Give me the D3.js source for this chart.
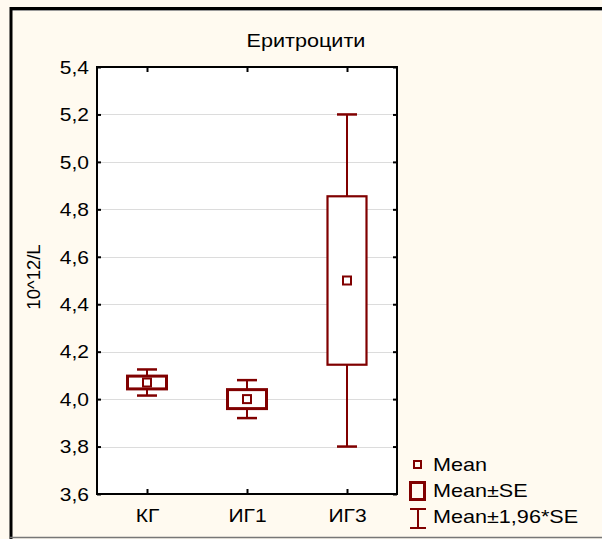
<!DOCTYPE html>
<html>
<head>
<meta charset="utf-8">
<script src="https://cdn.jsdelivr.net/npm/d3@7"></script>
<style>
  html, body { margin: 0; padding: 0; background: #fff; }
  svg { display: block; font-family: "Liberation Sans", Arial, sans-serif; }
</style>
</head>
<body>
<svg id="chart" width="602" height="539"></svg>
<script>
// groups and values
const groups = ["КГ", "ИГ1", "ИГ3"];
const means = [4.07, 4.0, 4.5];
const seLow = [4.043, 3.96, 4.145];
const seHigh = [4.097, 4.04, 4.855];
const ciLow = [4.015, 3.92, 3.8];
const ciHigh = [4.125, 4.08, 5.2];
const yTicks = [3.6, 3.8, 4.0, 4.2, 4.4, 4.6, 4.8, 5.0, 5.2, 5.4];
const legendItems = ["Mean", "Mean±SE", "Mean±1,96*SE"];

const dark = "#800000";
const sx = 1.2; // the original's text is a little stretched sideways
const svg = d3.select("#chart");

// outer frame
svg.append("rect").attr("x", 0).attr("y", 0).attr("width", 602).attr("height", 539).attr("fill", "#fffaf0");
svg.append("line").attr("x1", 10).attr("x2", 602).attr("y1", 8.5).attr("y2", 8.5)
  .attr("stroke", "#000").attr("stroke-width", 3);
svg.append("line").attr("x1", 10).attr("x2", 602).attr("y1", 10.5).attr("y2", 10.5)
  .attr("stroke", "#999").attr("stroke-width", 1);
svg.append("line").attr("x1", 11).attr("x2", 11).attr("y1", 7).attr("y2", 539)
  .attr("stroke", "#000").attr("stroke-width", 3);
svg.append("line").attr("x1", 10).attr("x2", 602).attr("y1", 537.5).attr("y2", 537.5)
  .attr("stroke", "#777").attr("stroke-width", 1.5);

const m = { left: 97, top: 67, right: 397, bottom: 494 };

const x = d3.scalePoint().domain(groups).range([m.left, m.right]).padding(0.5);
const y = d3.scaleLinear().domain([3.6, 5.4]).range([m.bottom, m.top]);

svg.append("rect")
  .attr("x", m.left).attr("y", m.top)
  .attr("width", m.right - m.left).attr("height", m.bottom - m.top)
  .attr("fill", "#fff");

// grid lines
svg.append("g").selectAll("line")
  .data(yTicks.slice(1, -1))
  .join("line")
  .attr("x1", m.left).attr("x2", m.right)
  .attr("y1", (d) => Math.round(y(d)) + 0.5).attr("y2", (d) => Math.round(y(d)) + 0.5)
  .attr("stroke", "#dcdcdc").attr("stroke-width", 1.2);

// axes: ticks pointing inward on all four sides
const fmt = (d) => d3.format(".1f")(d).replace(".", ",");
const styleAxis = (g) => {
  g.select(".domain").remove();
  g.selectAll(".tick line").attr("stroke", "#000").attr("stroke-width", 2);
  g.selectAll(".tick text").attr("fill", "#000").attr("font-size", "17.5px")
    .attr("font-family", "Liberation Sans, Arial, sans-serif")
    .attr("transform", `scale(${sx},1)`);
};
svg.append("g").attr("transform", `translate(${m.left},0)`)
  .call(d3.axisLeft(y).tickValues(yTicks).tickFormat(fmt).tickSize(-4))
  .call(styleAxis)
  .selectAll(".tick text").attr("x", -8 / sx).attr("dy", "0.36em");
svg.append("g").attr("transform", `translate(${m.right},0)`)
  .call(d3.axisRight(y).tickValues(yTicks).tickFormat("").tickSize(-4))
  .call(styleAxis);
svg.append("g").attr("transform", `translate(0,${m.bottom})`)
  .call(d3.axisBottom(x).tickSize(-5))
  .call(styleAxis)
  .selectAll(".tick text").attr("y", 28).attr("dy", 0);
svg.append("g").attr("transform", `translate(0,${m.top})`)
  .call(d3.axisTop(x).tickSize(-5).tickFormat(""))
  .call(styleAxis);

// plot frame
svg.append("rect")
  .attr("x", m.left).attr("y", m.top)
  .attr("width", m.right - m.left).attr("height", m.bottom - m.top)
  .attr("fill", "none").attr("stroke", "#000").attr("stroke-width", 2);

// boxes
const boxW = 39, capW = 20, meanS = 8;
const marks = svg.append("g");
groups.forEach((g, i) => {
  const cx = x(g);
  const thick = (seHigh[i] - seLow[i]) < 0.2;
  // whisker lines (outside the box)
  marks.append("line").attr("x1", cx).attr("x2", cx)
    .attr("y1", y(ciHigh[i])).attr("y2", y(seHigh[i]))
    .attr("stroke", dark).attr("stroke-width", 2);
  marks.append("line").attr("x1", cx).attr("x2", cx)
    .attr("y1", y(seLow[i])).attr("y2", y(ciLow[i]))
    .attr("stroke", dark).attr("stroke-width", 2);
  [ciHigh[i], ciLow[i]].forEach((v) => {
    marks.append("line").attr("x1", cx - capW / 2).attr("x2", cx + capW / 2)
      .attr("y1", y(v)).attr("y2", y(v))
      .attr("stroke", dark).attr("stroke-width", 2.5);
  });
  marks.append("rect")
    .attr("x", cx - boxW / 2).attr("y", y(seHigh[i]))
    .attr("width", boxW).attr("height", y(seLow[i]) - y(seHigh[i]))
    .attr("fill", "#fff").attr("stroke", dark).attr("stroke-width", thick ? 3 : 2.2);
  marks.append("rect")
    .attr("x", cx - meanS / 2).attr("y", y(means[i]) - meanS / 2)
    .attr("width", meanS).attr("height", meanS)
    .attr("fill", "#fff").attr("stroke", dark).attr("stroke-width", 2);
});

// title
svg.append("text").attr("transform", `translate(306,47) scale(${sx},1)`)
  .attr("text-anchor", "middle")
  .attr("font-size", "18px").attr("fill", "#000")
  .text("Еритроцити");

// y label
svg.append("text")
  .attr("transform", "translate(40,277) rotate(-90)")
  .attr("text-anchor", "middle").attr("font-size", "18.5px").attr("fill", "#000")
  .text("10^12/L");

// legend
const lg = svg.append("g");
const lgY = [464.5, 491, 518];
lg.append("rect").attr("x", 414).attr("y", lgY[0] - 3.5).attr("width", 7).attr("height", 7)
  .attr("fill", "none").attr("stroke", dark).attr("stroke-width", 2);
lg.append("rect").attr("x", 410.5).attr("y", lgY[1] - 8.5).attr("width", 14).attr("height", 17)
  .attr("fill", "none").attr("stroke", dark).attr("stroke-width", 3);
lg.append("line").attr("x1", 418).attr("x2", 418).attr("y1", lgY[2] - 9).attr("y2", lgY[2] + 10)
  .attr("stroke", dark).attr("stroke-width", 2);
[lgY[2] - 9, lgY[2] + 10].forEach((v) => {
  lg.append("line").attr("x1", 410).attr("x2", 426).attr("y1", v).attr("y2", v)
    .attr("stroke", dark).attr("stroke-width", 2);
});
const lgBase = [471, 497, 523];
lg.selectAll("text.lt")
  .data(legendItems)
  .join("text")
  .attr("class", "lt")
  .attr("transform", (d, i) => `translate(433,${lgBase[i]}) scale(${sx},1)`)
  .attr("font-size", "18px").attr("fill", "#000")
  .text((d) => d);
</script>
</body>
</html>
